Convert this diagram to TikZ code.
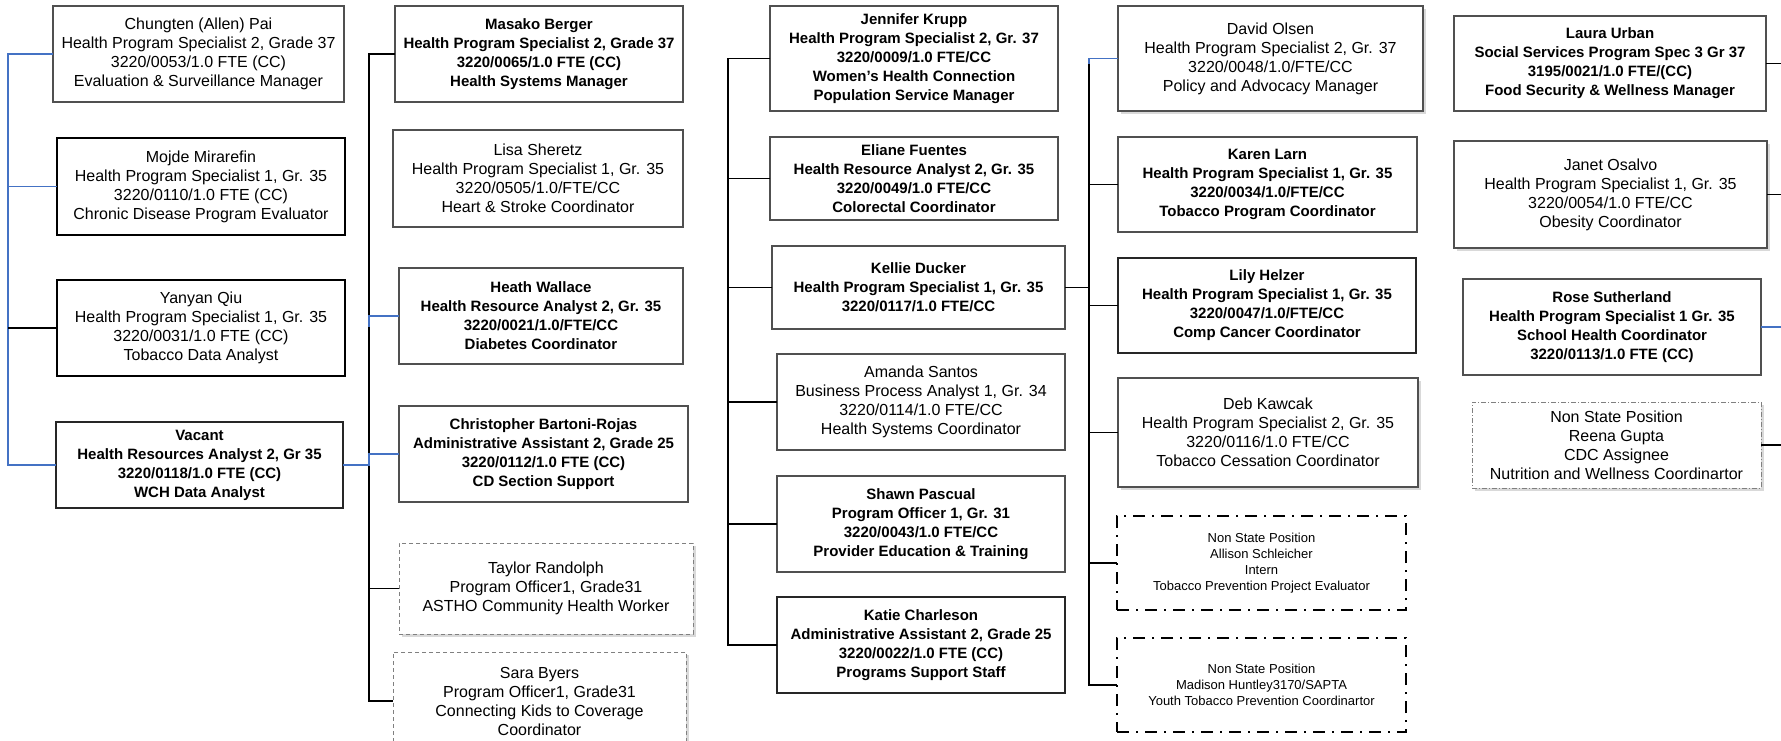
\documentclass[tikz,border=0pt]{standalone}
\usepackage{fontspec}
\setmainfont{Liberation Sans}
\usetikzlibrary{shadows}
\definecolor{lnblue}{HTML}{4472C4}
\definecolor{bordergray}{HTML}{505050}
\tikzset{
 card/.style={draw=bordergray, line width=1.1pt, fill=white, align=center, inner sep=0pt, outer sep=0pt, font=\fontsize{16}{19}\selectfont},
 cardbold/.style={card, font=\fontsize{15}{19}\selectfont\bfseries},
 heavy/.style={draw=black, line width=2.2pt},
 medium/.style={draw=black!85, line width=1.5pt},
 shade/.style={drop shadow={shadow xshift=3pt, shadow yshift=-3pt, fill=black!15, opacity=1}},
 dashgray/.style={draw=gray, line width=1pt, dash pattern=on 4pt off 3pt},
 dashdotblack/.style={draw=black, line width=1.8pt, dash pattern=on 12pt off 7pt on 2pt off 7pt},
 dashdotgray/.style={draw=gray, line width=1pt, dash pattern=on 5pt off 2pt on 1pt off 2pt},
 smalltext/.style={font=\fontsize{13}{16}\selectfont},
 blk/.style={draw=black, line width=1.9pt},
 blu/.style={draw=lnblue, line width=1.7pt},
}
\newcommand\card[7]{\node[#6, minimum width={(#4-#2)*1pt}, minimum height={(#5-#3)*1pt}] (#1) at ({(#2+#4)/2},{(#3+#5)/2}) {#7};}
\begin{document}
\begin{tikzpicture}[x=1pt,y=-1pt]
\useasboundingbox (0,0) rectangle (1781,740);
\clip (0,0) rectangle (1781,740);
\fill[white] (0,0) rectangle (1781,740);

% column 1
\card{chungten}{53}{6}{344}{102}{card}{Chungten (Allen) Pai\\Health Program Specialist 2, Grade 37\\3220/0053/1.0 FTE (CC)\\Evaluation \& Surveillance Manager}
\card{mojde}{57}{138}{345}{235}{card,heavy}{Mojde Mirarefin\\Health Program Specialist 1, Gr. 35\\3220/0110/1.0 FTE (CC)\\Chronic Disease Program Evaluator}
\card{yanyan}{57}{280}{345}{376}{card,heavy}{Yanyan Qiu\\Health Program Specialist 1, Gr. 35\\3220/0031/1.0 FTE (CC)\\Tobacco Data Analyst}
\card{vacant}{56}{422}{343}{508}{cardbold,medium}{Vacant\\Health Resources Analyst 2, Gr 35\\3220/0118/1.0 FTE (CC)\\WCH Data Analyst}

% column 2
\card{masako}{395}{6}{683}{102}{cardbold}{Masako Berger\\Health Program Specialist 2, Grade 37\\3220/0065/1.0 FTE (CC)\\Health Systems Manager}
\card{lisa}{393}{130}{683}{227}{card}{Lisa Sheretz\\Health Program Specialist 1, Gr. 35\\3220/0505/1.0/FTE/CC\\Heart \& Stroke Coordinator}
\card{heath}{399}{268}{683}{364}{cardbold}{Heath Wallace\\Health Resource Analyst 2, Gr. 35\\3220/0021/1.0/FTE/CC\\Diabetes Coordinator}
\card{christopher}{399}{406}{688}{502}{cardbold}{Christopher Bartoni-Rojas\\Administrative Assistant 2, Grade 25\\3220/0112/1.0 FTE (CC)\\CD Section Support}
\card{taylor}{399}{543}{693}{634}{card,dashgray,shade}{Taylor Randolph\\Program Officer1, Grade31\\ASTHO Community Health Worker}
\card{sara}{393}{652}{686}{750}{card,dashgray,shade}{Sara Byers\\Program Officer1, Grade31\\Connecting Kids to Coverage\\Coordinator}

% column 3
\card{jennifer}{770}{6}{1058}{111}{cardbold}{Jennifer Krupp\\Health Program Specialist 2, Gr. 37\\3220/0009/1.0 FTE/CC\\Women’s Health Connection\\Population Service Manager}
\card{eliane}{770}{137}{1058}{220}{cardbold}{Eliane Fuentes\\Health Resource Analyst 2, Gr. 35\\3220/0049/1.0 FTE/CC\\Colorectal Coordinator}
\card{kellie}{772}{246}{1065}{329}{cardbold}{Kellie Ducker\\Health Program Specialist 1, Gr. 35\\3220/0117/1.0 FTE/CC}
\card{amanda}{777}{354}{1065}{450}{card}{Amanda Santos\\Business Process Analyst 1, Gr. 34\\3220/0114/1.0 FTE/CC\\Health Systems Coordinator}
\card{shawn}{777}{476}{1065}{572}{cardbold}{Shawn Pascual\\Program Officer 1, Gr. 31\\3220/0043/1.0 FTE/CC\\Provider Education \& Training}
\card{katie}{777}{597}{1065}{693}{cardbold,medium}{Katie Charleson\\Administrative Assistant 2, Grade 25\\3220/0022/1.0 FTE (CC)\\Programs Support Staff}

% column 4
\card{david}{1118}{6}{1423}{111}{card,shade}{David Olsen\\Health Program Specialist 2, Gr. 37\\3220/0048/1.0/FTE/CC\\Policy and Advocacy Manager}
\card{karen}{1118}{137}{1417}{232}{cardbold}{Karen Larn\\Health Program Specialist 1, Gr. 35\\3220/0034/1.0/FTE/CC\\Tobacco Program Coordinator}
\card{lily}{1118}{258}{1416}{353}{cardbold,medium}{Lily Helzer\\Health Program Specialist 1, Gr. 35\\3220/0047/1.0/FTE/CC\\Comp Cancer Coordinator}
\card{deb}{1118}{378}{1418}{487}{card,shade}{Deb Kawcak\\Health Program Specialist 2, Gr. 35\\3220/0116/1.0 FTE/CC\\Tobacco Cessation Coordinator}
\card{allison}{1117}{516}{1406}{610}{card,dashdotblack,smalltext}{Non State Position\\Allison Schleicher\\Intern\\Tobacco Prevention Project Evaluator}
\card{madison}{1117}{638}{1406}{732}{card,dashdotblack,smalltext}{Non State Position\\Madison Huntley3170/SAPTA\\Youth Tobacco Prevention Coordinartor}

% column 5
\card{laura}{1454}{16}{1766}{111}{cardbold}{Laura Urban\\Social Services Program Spec 3 Gr 37\\3195/0021/1.0 FTE/(CC)\\Food Security \& Wellness Manager}
\card{janet}{1454}{141}{1767}{248}{card,shade}{Janet Osalvo\\Health Program Specialist 1, Gr. 35\\3220/0054/1.0 FTE/CC\\Obesity Coordinator}
\card{rose}{1463}{279}{1761}{375}{cardbold}{Rose Sutherland\\Health Program Specialist 1 Gr. 35\\School Health Coordinator\\3220/0113/1.0 FTE (CC)}
\card{reena}{1472}{402}{1761}{488}{card,dashdotgray,shade}{Non State Position\\Reena Gupta\\CDC Assignee\\Nutrition and Wellness Coordinartor}

% buses
\coordinate (busA) at (8,0);
\coordinate (busB) at (369,0);
\coordinate (busC) at (728,0);
\coordinate (busD) at (1089,0);
\coordinate (edge) at (1781,0);

% column 1 connectors
\draw[blu] (chungten.west) -- (chungten.west -| busA) -- (vacant.west -| busA) -- (vacant.west);
\draw[blu] (mojde.west) -- (mojde.west -| busA);
\draw[blk] (yanyan.west) -- (yanyan.west -| busA);

% column 2 connectors
\draw[blk] (masako.west) -- (masako.west -| busB) -- (sara.west -| busB) -- (sara.west);
\draw[blk] (taylor.west) -- (taylor.west -| busB);
\draw[blu] (heath.west) -- (heath.west -| busB) -- ++(0,11);
\draw[blu] (vacant.east) -- (vacant.east -| busB) |- (christopher.west);

% column 3 connectors
\draw[blk] (jennifer.west) -- (jennifer.west -| busC) -- (katie.west -| busC) -- (katie.west);
\draw[blk] (eliane.west) -- (eliane.west -| busC);
\draw[blk] (kellie.west) -- (kellie.west -| busC);
\draw[blk] (amanda.west) -- (amanda.west -| busC);
\draw[blk] (shawn.west) -- (shawn.west -| busC);

% column 4 connectors
\draw[blk] (kellie.east) -- (kellie.east -| busD);
\draw[blk] (david.west -| busD) -- (madison.west -| busD) -- (madison.west);
\draw[blu] (david.west) -- (david.west -| busD) -- ++(0,5);
\draw[blk] (karen.west) -- (karen.west -| busD);
\draw[blk] (lily.west) -- (lily.west -| busD);
\draw[blk] (deb.west) -- (deb.west -| busD);
\draw[blk] (allison.west) -- (allison.west -| busD);

% column 5 connectors
\draw[blk] (laura.east) -- (laura.east -| edge);
\draw[blk] (janet.east) -- (janet.east -| edge);
\draw[blu] (rose.east) -- (rose.east -| edge);
\draw[blk] (reena.east) -- (reena.east -| edge);
\end{tikzpicture}
\end{document}
